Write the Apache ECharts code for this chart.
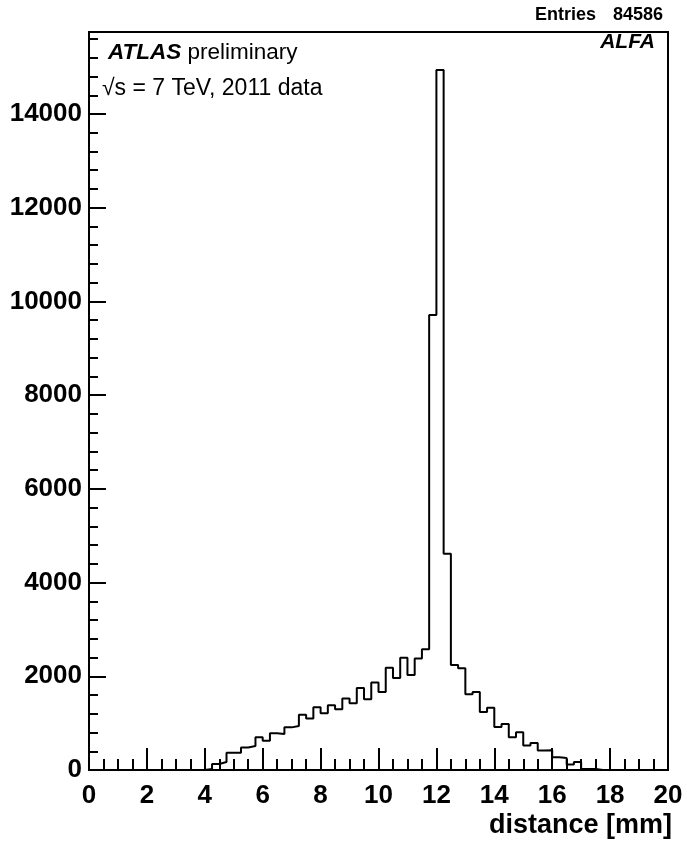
<!DOCTYPE html>
<html>
<head>
<meta charset="utf-8">
<script src="https://cdn.jsdelivr.net/npm/echarts@6/dist/echarts.min.js"></script>
<style>
  html, body { margin: 0; padding: 0; background: #fff; }
  #chart { width: 687px; height: 842px; }
</style>
</head>
<body>
<div id="chart"></div>
<script>
// histogram: 80 bins of 0.25 mm from 0 to 20 mm
const binLow = 0;
const binWidth = 0.25;
const counts = [
  0, 0, 0, 0, 0, 0, 0, 0,
  0, 0, 0, 0, 0, 0, 0, 0,
  20, 130, 170, 370, 370, 480, 510, 700,
  625, 785, 770, 910, 940, 1180, 1100, 1340,
  1210, 1380, 1295, 1525, 1425, 1750, 1510, 1865,
  1665, 2180, 1965, 2395, 2030, 2380, 2575, 9710,
  14940, 4615, 2240, 2170, 1615, 1665, 1240, 1330,
  920, 980, 700, 805, 525, 575, 415, 420,
  270, 258, 120, 170, 20, 20, 0, 0,
  0, 0, 0, 0, 0, 0, 0, 0
];
const entries = 84586;
const xTicks = [0, 2, 4, 6, 8, 10, 12, 14, 16, 18, 20];
const yTicks = [0, 2000, 4000, 6000, 8000, 10000, 12000, 14000];

const font = 'Liberation Sans, Helvetica, Arial, sans-serif';

// step outline: each bin starts at its low edge, closed at the last edge
const stepData = counts.map((c, i) => [binLow + i * binWidth, c]);
stepData.push([binLow + counts.length * binWidth, 0]);

const chart = echarts.init(document.getElementById('chart'));

const yMax = 15750;

const option = {
  animation: false,
  grid: {
    left: 89, right: 19, top: 32, bottom: 72,
    outerBoundsMode: 'none',
    show: true,
    borderColor: '#000',
    borderWidth: 2,
    backgroundColor: 'transparent'
  },
  xAxis: {
    type: 'value',
    min: xTicks[0],
    max: xTicks[xTicks.length - 1],
    interval: 2,
    name: 'distance [mm]',
    nameLocation: 'end',
    nameGap: -179,
    nameTextStyle: {
      fontFamily: font, fontWeight: 'bold', fontSize: 27, color: '#000',
      align: 'left', verticalAlign: 'top', padding: [42, 0, 0, 0]
    },
    axisLine: { lineStyle: { color: '#000', width: 2 } },
    axisTick: { inside: true, length: 22, lineStyle: { color: '#000', width: 2 } },
    minorTick: { show: true, splitNumber: 4, length: 11, lineStyle: { color: '#000', width: 2 } },
    splitLine: { show: false },
    axisLabel: {
      fontFamily: font, fontWeight: 'bold', fontSize: 26, color: '#000', margin: 13
    }
  },
  yAxis: [
    {
      type: 'value',
      min: yTicks[0],
      max: yMax,
      interval: 2000,
      axisLine: { show: true, lineStyle: { color: '#000', width: 2 } },
      axisTick: { inside: true, length: 17, lineStyle: { color: '#000', width: 2 } },
      splitLine: { show: false },
      axisLabel: {
        showMaxLabel: false,
        formatter: v => String(v),
        fontFamily: font, fontWeight: 'bold', fontSize: 26, color: '#000', margin: 7
      }
    },
    {
      type: 'value',
      position: 'left',
      offset: 0,
      min: yTicks[0],
      max: yMax,
      interval: 400,
      axisLine: { show: false },
      axisTick: { inside: true, length: 9, lineStyle: { color: '#000', width: 2 } },
      splitLine: { show: false },
      axisLabel: { show: false }
    }
  ],
  series: [
    {
      type: 'line',
      step: 'end',
      yAxisIndex: 0,
      data: stepData,
      symbol: 'none',
      lineStyle: { color: '#000', width: 2 },
      silent: true
    }
  ],
  graphic: [
    {
      type: 'text', left: 535, top: 6,
      style: { text: 'Entries', fontFamily: font, fontWeight: 'bold', fontSize: 18, fill: '#000' }
    },
    {
      type: 'text', right: 24, top: 6,
      style: { text: String(entries), fontFamily: font, fontWeight: 'bold', fontSize: 18, fill: '#000' }
    },
    {
      type: 'text', right: 32, top: 32,
      style: { text: 'ALFA', fontFamily: font, fontWeight: 'bold', fontStyle: 'italic', fontSize: 21, fill: '#000' }
    },
    {
      type: 'text', left: 108, top: 41,
      style: {
        text: '{b|ATLAS} preliminary',
        fontFamily: font, fontSize: 22.5, fill: '#000',
        rich: { b: { fontFamily: font, fontWeight: 'bold', fontStyle: 'italic', fontSize: 22.5 } }
      }
    },
    {
      type: 'text', left: 102, top: 77,
      style: { text: '√s = 7 TeV, 2011 data', fontFamily: font, fontSize: 23, fill: '#000' }
    }
  ]
};

chart.setOption(option);
</script>
</body>
</html>
